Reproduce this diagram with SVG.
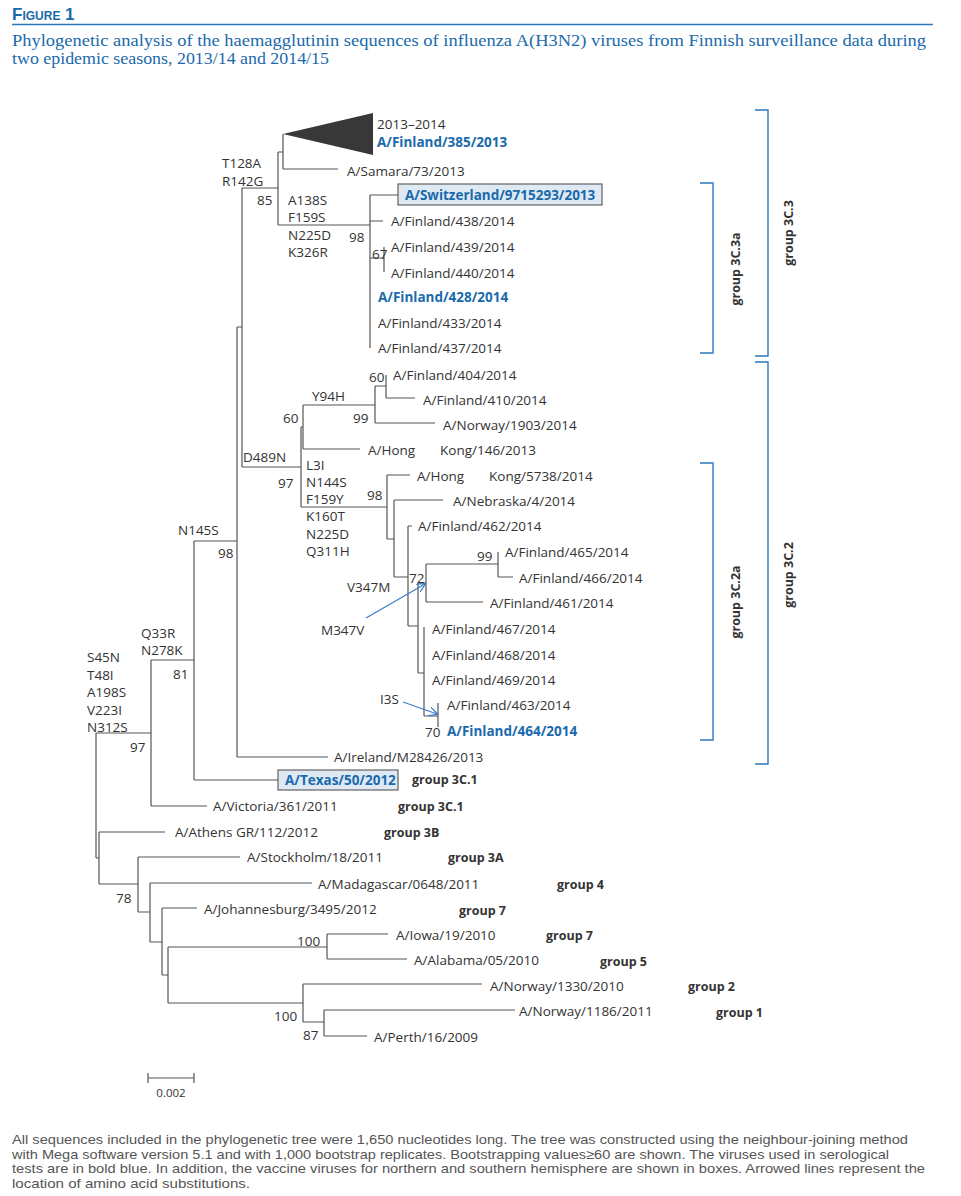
<svg xmlns="http://www.w3.org/2000/svg" width="961" height="1196" viewBox="0 0 961 1196">
<defs>
<style>
.t{font-family:"Open Sans","Noto Sans",sans-serif;font-size:13.5px;fill:#333;dominant-baseline:central}
.b{font-weight:bold;fill:#1a6aab}
.g{font-family:"Open Sans","Noto Sans",sans-serif;font-size:12.5px;font-weight:bold;fill:#333;dominant-baseline:central}
.br{fill:none;stroke:#555;stroke-width:1.2}
.bk{fill:none;stroke:#2a78bd;stroke-width:1.4}
.ar{fill:none;stroke:#3d7fc7;stroke-width:1.3}
.box{fill:#dfe9f4;stroke:#555;stroke-width:1.1}
.hd{font-family:"Liberation Serif","DejaVu Serif",serif;font-size:16.5px;fill:#1a6aab}
.fn{font-family:"Liberation Sans Narrow","Liberation Sans",sans-serif;font-size:13.5px;fill:#555}
</style>
<marker id="ah" viewBox="0 0 10 10" refX="9" refY="5" markerWidth="9" markerHeight="9" markerUnits="userSpaceOnUse" orient="auto">
<path d="M0,0 L10,5 L0,10" fill="none" stroke="#3d7fc7" stroke-width="1.4"/>
</marker>
</defs>
<rect width="961" height="1196" fill="#fff"/>

<g id="header">
<text x="12" y="20" font-family="Liberation Sans Narrow,Liberation Sans,sans-serif" font-size="17" font-weight="bold" fill="#1a6aab" style="font-variant:small-caps">Figure 1</text>
<line x1="12" y1="24.5" x2="933" y2="24.5" stroke="#2a78bd" stroke-width="1.5"/>
<text class="hd" x="12" y="46" textLength="914" lengthAdjust="spacingAndGlyphs">Phylogenetic analysis of the haemagglutinin sequences of influenza A(H3N2) viruses from Finnish surveillance data during</text>
<text class="hd" x="12" y="64" textLength="317" lengthAdjust="spacingAndGlyphs">two epidemic seasons, 2013/14 and 2014/15</text>
</g>

<g id="connectors">
<path class="br" d="M96,733 V858 M96,733 H151 M96,858 H99
M151,660 V806 M151,660 H194 M151,806 H207
M194,541 V780 M194,541 H237 M194,780 H278
M237,327 V757 M237,327 H242 M237,757 H328
M242,188 V467 M242,188 H278 M242,467 H301
M278,152 V225 M278,152 H283 M278,225 H370
M283,134 V169 M283,169 H338
M370,195 V348 M370,195 H398 M370,221 H383 M370,258 H384
M384,247 V272
M301,427 V507 M301,427 H303 M301,507 H387
M303,405 V449 M303,405 H375 M303,449 H360
M375,386 V423 M375,386 H386 M375,423 H435
M386,375 V398 M386,398 H415
M387,475 V539 M387,475 H410 M387,539 H394
M394,500 V577 M394,500 H443 M394,577 H408
M408,526 V626 M408,526 H412 M408,626 H418
M418,583 V673 M418,583 H426 M418,673 H424
M426,564 V602 M426,564 H498 M426,602 H483
M498,552 V577 M498,577 H513
M424,627 V716 M424,716 H438
M438,703 V727
M99,832 V884 M99,832 H165 M99,884 H138
M138,857 V912 M138,857 H240 M138,912 H150
M150,883 V942 M150,883 H312 M150,942 H162
M162,908 V975 M162,908 H197 M162,975 H168
M168,947 V1003 M168,947 H327 M168,1003 H303
M327,934 V959 M327,934 H388 M327,959 H407
M303,984 V1022 M303,984 H482 M303,1022 H324
M324,1010 V1036 M324,1010 H515 M324,1036 H367"/>
<polygon points="283,134 373,113 373,155" fill="#383838"/>
<line class="ar" x1="366" y1="618" x2="425" y2="584" marker-end="url(#ah)"/>
<line class="ar" x1="403" y1="702" x2="437" y2="714" marker-end="url(#ah)"/>
</g>

<g id="clade-2013-2014">
<text class="t" x="377" y="124">2013–2014</text>
<text class="t b" x="377" y="142">A/Finland/385/2013</text>
</g>
<g id="samara"><text class="t" x="347" y="171">A/Samara/73/2013</text></g>
<g id="switzerland">
<rect class="box" x="398" y="184" width="204" height="21"/>
<text class="t b" x="405" y="195">A/Switzerland/9715293/2013</text>
</g>
<g id="fin438"><text class="t" x="391" y="221">A/Finland/438/2014</text></g>
<g id="fin439"><text class="t" x="391" y="247">A/Finland/439/2014</text></g>
<g id="fin440"><text class="t" x="391" y="273">A/Finland/440/2014</text></g>
<g id="fin428"><text class="t b" x="378" y="297">A/Finland/428/2014</text></g>
<g id="fin433"><text class="t" x="378" y="323">A/Finland/433/2014</text></g>
<g id="fin437"><text class="t" x="378" y="348">A/Finland/437/2014</text></g>
<g id="fin404"><text class="t" x="393" y="375">A/Finland/404/2014</text></g>
<g id="fin410"><text class="t" x="423" y="400">A/Finland/410/2014</text></g>
<g id="nor1903"><text class="t" x="443" y="425">A/Norway/1903/2014</text></g>
<g id="hk146"><text class="t"><tspan x="368" y="450">A/Hong</tspan><tspan x="440" y="450">Kong/146/2013</tspan></text></g>
<g id="hk5738"><text class="t"><tspan x="417" y="476">A/Hong</tspan><tspan x="489" y="476">Kong/5738/2014</tspan></text></g>
<g id="nebraska"><text class="t" x="453" y="501">A/Nebraska/4/2014</text></g>
<g id="fin462"><text class="t" x="418" y="526">A/Finland/462/2014</text></g>
<g id="fin465"><text class="t" x="505" y="552">A/Finland/465/2014</text></g>
<g id="fin466"><text class="t" x="519" y="578">A/Finland/466/2014</text></g>
<g id="fin461"><text class="t" x="490" y="603">A/Finland/461/2014</text></g>
<g id="fin467"><text class="t" x="432" y="629">A/Finland/467/2014</text></g>
<g id="fin468"><text class="t" x="432" y="655">A/Finland/468/2014</text></g>
<g id="fin469"><text class="t" x="432" y="680">A/Finland/469/2014</text></g>
<g id="fin463"><text class="t" x="447" y="705">A/Finland/463/2014</text></g>
<g id="fin464"><text class="t b" x="447" y="731">A/Finland/464/2014</text></g>
<g id="ireland"><text class="t" x="334" y="757">A/Ireland/M28426/2013</text></g>
<g id="texas">
<rect class="box" x="278" y="770" width="120" height="20"/>
<text class="t b" x="285" y="780">A/Texas/50/2012</text>
<text class="g" x="412" y="779">group 3C.1</text>
</g>
<g id="victoria"><text class="t" x="213" y="806">A/Victoria/361/2011</text><text class="g" x="398" y="806">group 3C.1</text></g>
<g id="athens"><text class="t" x="175" y="832">A/Athens GR/112/2012</text><text class="g" x="384" y="832">group 3B</text></g>
<g id="stockholm"><text class="t" x="247" y="857">A/Stockholm/18/2011</text><text class="g" x="448" y="857">group 3A</text></g>
<g id="madagascar"><text class="t" x="318" y="884">A/Madagascar/0648/2011</text><text class="g" x="557" y="884">group 4</text></g>
<g id="johannesburg"><text class="t" x="204" y="909">A/Johannesburg/3495/2012</text><text class="g" x="459" y="910">group 7</text></g>
<g id="iowa"><text class="t" x="396" y="935">A/Iowa/19/2010</text><text class="g" x="546" y="935">group 7</text></g>
<g id="alabama"><text class="t" x="414" y="960">A/Alabama/05/2010</text><text class="g" x="600" y="961">group 5</text></g>
<g id="nor1330"><text class="t" x="490" y="986">A/Norway/1330/2010</text><text class="g" x="688" y="986">group 2</text></g>
<g id="nor1186"><text class="t" x="519" y="1011">A/Norway/1186/2011</text><text class="g" x="716" y="1012">group 1</text></g>
<g id="perth"><text class="t" x="374" y="1037">A/Perth/16/2009</text></g>

<g id="annotations">
<text class="t" x="222" y="163">T128A</text>
<text class="t" x="222" y="181">R142G</text>
<text class="t" x="257" y="200">85</text>
<text class="t" x="288" y="200">A138S</text>
<text class="t" x="288" y="217">F159S</text>
<text class="t" x="288" y="235">N225D</text>
<text class="t" x="288" y="252">K326R</text>
<text class="t" x="349" y="237">98</text>
<text class="t" x="372" y="254">67</text>
<text class="t" x="369" y="377">60</text>
<text class="t" x="312" y="396">Y94H</text>
<text class="t" x="353" y="418">99</text>
<text class="t" x="283" y="418">60</text>
<text class="t" x="243" y="457">D489N</text>
<text class="t" x="278" y="483">97</text>
<text class="t" x="306" y="465">L3I</text>
<text class="t" x="306" y="482">N144S</text>
<text class="t" x="306" y="499">F159Y</text>
<text class="t" x="306" y="516">K160T</text>
<text class="t" x="306" y="534">N225D</text>
<text class="t" x="306" y="551">Q311H</text>
<text class="t" x="367" y="495">98</text>
<text class="t" x="477" y="556">99</text>
<text class="t" x="409" y="578">72</text>
<text class="t" x="347" y="587">V347M</text>
<text class="t" x="321" y="630">M347V</text>
<text class="t" x="380" y="699">I3S</text>
<text class="t" x="425" y="732">70</text>
<text class="t" x="178" y="530">N145S</text>
<text class="t" x="218" y="553">98</text>
<text class="t" x="141" y="633">Q33R</text>
<text class="t" x="141" y="650">N278K</text>
<text class="t" x="173" y="674">81</text>
<text class="t" x="87" y="657">S45N</text>
<text class="t" x="87" y="675">T48I</text>
<text class="t" x="87" y="692">A198S</text>
<text class="t" x="87" y="710">V223I</text>
<text class="t" x="87" y="727">N312S</text>
<text class="t" x="130" y="747">97</text>
<text class="t" x="116" y="898">78</text>
<text class="t" x="297" y="941">100</text>
<text class="t" x="274" y="1016">100</text>
<text class="t" x="303" y="1035">87</text>
</g>

<g id="bracket-3C3">
<path class="bk" d="M755,110 H768 V356 H755"/>
<text class="g" transform="translate(788,233) rotate(-90)" text-anchor="middle">group 3C.3</text>
</g>
<g id="bracket-3C3a">
<path class="bk" d="M700,183 H713 V353 H700"/>
<text class="g" transform="translate(735,269) rotate(-90)" text-anchor="middle">group 3C.3a</text>
</g>
<g id="bracket-3C2">
<path class="bk" d="M755,362 H768 V764 H755"/>
<text class="g" transform="translate(788,575) rotate(-90)" text-anchor="middle">group 3C.2</text>
</g>
<g id="bracket-3C2a">
<path class="bk" d="M700,463 H713 V740 H700"/>
<text class="g" transform="translate(735,602) rotate(-90)" text-anchor="middle">group 3C.2a</text>
</g>

<g id="scalebar">
<path class="br" d="M148,1078 H194 M148,1073 V1083 M194,1073 V1083"/>
<text x="171" y="1097" text-anchor="middle" font-family="Open Sans,Noto Sans,sans-serif" font-size="11.5" fill="#333">0.002</text>
</g>

<g id="footnote">
<text class="fn" x="12" y="1144" textLength="896" lengthAdjust="spacingAndGlyphs">All sequences included in the phylogenetic tree were 1,650 nucleotides long. The tree was constructed using the neighbour-joining method</text>
<text class="fn" x="12" y="1159" textLength="877" lengthAdjust="spacingAndGlyphs">with Mega software version 5.1 and with 1,000 bootstrap replicates. Bootstrapping values≥60 are shown. The viruses used in serological</text>
<text class="fn" x="12" y="1173" textLength="913" lengthAdjust="spacingAndGlyphs">tests are in bold blue. In addition, the vaccine viruses for northern and southern hemisphere are shown in boxes. Arrowed lines represent the</text>
<text class="fn" x="12" y="1188" textLength="238" lengthAdjust="spacingAndGlyphs">location of amino acid substitutions.</text>
</g>
</svg>
